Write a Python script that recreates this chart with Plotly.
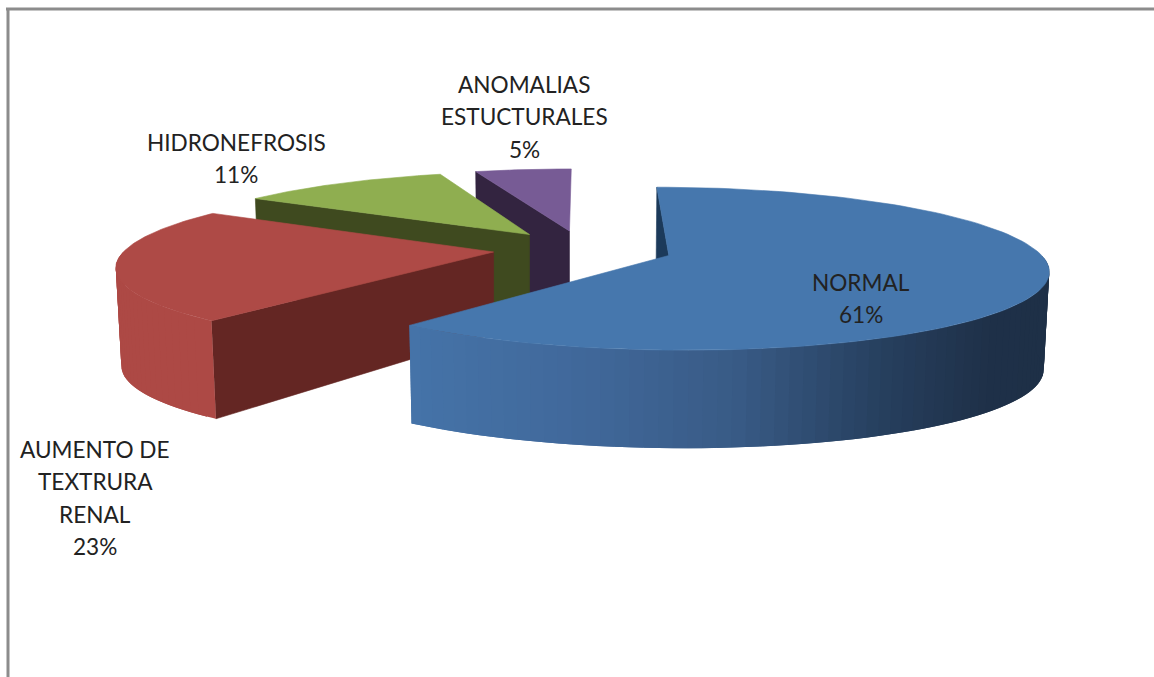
import numpy as np
import plotly.graph_objects as go

# data (clockwise from 12 o'clock)
CATEGORIES = ["NORMAL", "AUMENTO DE TEXTRURA RENAL", "HIDRONEFROSIS", "ANOMALIAS ESTUCTURALES"]
VALUES = [61, 23, 11, 5]

LABEL_LINES = [["NORMAL"], ["AUMENTO DE", "TEXTRURA", "RENAL"], ["HIDRONEFROSIS"], ["ANOMALIAS", "ESTUCTURALES"]]
LABEL_X = [861, 95, 236, 524]
LABEL_Y = [282, 449, 142, 84]
LINE_STEP = 32.5

# colours: top, cut face, wall
TOP_COLORS = ["#4677ad", "#ae4a46", "#8fae50", "#775b95"]
FACE_COLORS = ["#1c3a5a", "#642623", "#3f4a1f", "#332440"]
WALL_STOPS = [
    [(400, "#4675ab"), (600, "#41699b"), (760, "#395b86"), (900, "#27405f"), (1000, "#1f3149"), (1060, "#1e3047")],
    [(100, "#ad4945"), (220, "#ad4945")],
    [(0, "#8fae50"), (1154, "#8fae50")],
    [(0, "#775b95"), (1154, "#775b95")],
]

# 3D pie geometry, in picture pixels
CX, CY = 583, 249
RADIUS = 368
EXPLODE = 90
TILT = 0.21
APEX_DEPTH = 82
RIM_DEPTH = 98
BOTTOM_SHRINK = 0.988
PERSP = 0.16


def project(gx, gy):
    # gy is towards the viewer
    s = 1 / (1 - PERSP * gy / RADIUS)
    return CX + gx * s, CY + TILT * gy * s


def rim_bottom(gx, gy):
    x, y = project(gx, gy)
    return CX + (x - CX) * BOTTOM_SHRINK, y + RIM_DEPTH


def apex_bottom(gx, gy):
    x, y = project(gx, gy)
    return x, y + APEX_DEPTH


def rim(apex, ang):
    return apex[0] + RADIUS * np.sin(ang), apex[1] - RADIUS * np.cos(ang)


def wall_color(stops, x):
    xs = [p[0] for p in stops]
    rgb = [[int(p[1][i:i + 2], 16) for i in (1, 3, 5)] for p in stops]
    vals = [np.interp(x, xs, [c[k] for c in rgb]) for k in range(3)]
    return "rgb(%d,%d,%d)" % tuple(vals)


def poly(fig, pts, color):
    xs = [p[0] for p in pts] + [pts[0][0]]
    ys = [p[1] for p in pts] + [pts[0][1]]
    fig.add_trace(go.Scatter(
        x=xs, y=ys, mode="lines", fill="toself", fillcolor=color,
        line=dict(color=color, width=0.6), hoverinfo="skip", showlegend=False
    ))


fig = go.Figure()

fracs = np.array(VALUES) / sum(VALUES)
starts = np.concatenate([[0], np.cumsum(fracs)[:-1]]) * 2 * np.pi
ends = np.cumsum(fracs) * 2 * np.pi

# painter's order: back slices first
for i in [3, 2, 1, 0]:
    mid = (starts[i] + ends[i]) / 2
    apex = (EXPLODE * np.sin(mid), -EXPLODE * np.cos(mid))

    # cut face on the leading edge
    edge = rim(apex, starts[i])
    poly(fig, [project(*apex), project(*edge), rim_bottom(*edge), apex_bottom(*apex)], FACE_COLORS[i])

    # outer wall, front half only. Strips overlap the next one so no seams show
    lo, hi = max(starts[i], np.pi / 2), min(ends[i], 3 * np.pi / 2)
    if hi > lo:
        angs = np.linspace(lo, hi, int((hi - lo) * 30) + 2)
        # walk from the far end so each strip paints over the overlap of the last
        for k in range(len(angs) - 2, -1, -1):
            a0, a1 = angs[k], angs[min(k + 2, len(angs) - 1)]
            arc = np.linspace(a0, a1, 6)
            tops = [project(*rim(apex, a)) for a in arc]
            bottoms = [rim_bottom(*rim(apex, a)) for a in arc]
            color = wall_color(WALL_STOPS[i], project(*rim(apex, angs[k]))[0])
            fig.add_trace(go.Scatter(
                x=[p[0] for p in tops + bottoms[::-1]] + [tops[0][0]],
                y=[p[1] for p in tops + bottoms[::-1]] + [tops[0][1]],
                mode="lines", fill="toself", fillcolor=color,
                line=dict(width=0), hoverinfo="skip", showlegend=False
            ))

    # top surface
    angs = np.linspace(starts[i], ends[i], 120)
    pts = [project(*apex)] + [project(*rim(apex, a)) for a in angs]
    poly(fig, pts, TOP_COLORS[i])

# labels, one annotation a line to hold the wide line spacing
annotations = []
for lines, value, x, y in zip(LABEL_LINES, VALUES, LABEL_X, LABEL_Y):
    for k, text in enumerate(lines + ["%d%%" % value]):
        annotations.append(dict(
            x=x, y=y + k * LINE_STEP, text=text, showarrow=False,
            xanchor="center", yanchor="middle",
            font=dict(family="Lato", size=22.6, color="#222222")
        ))

fig.update_layout(
    width=1154,
    height=677,
    margin=dict(l=0, r=0, t=0, b=0),
    paper_bgcolor="white",
    plot_bgcolor="white",
    showlegend=False,
    annotations=annotations,
    shapes=[
        dict(type="line", x0=6, x1=1154, y0=9, y1=9, line=dict(color="#8c8c8c", width=3)),
        dict(type="line", x0=8, x1=8, y0=8, y1=677, line=dict(color="#8c8c8c", width=3)),
    ],
)
fig.update_xaxes(visible=False, range=[0, 1154], fixedrange=True)
fig.update_yaxes(visible=False, range=[677, 0], fixedrange=True)

fig.write_html(
    "out.html",
    config=dict(displayModeBar=False),
    post_script="document.body.style.margin='0';document.body.style.overflow='hidden';"
)
